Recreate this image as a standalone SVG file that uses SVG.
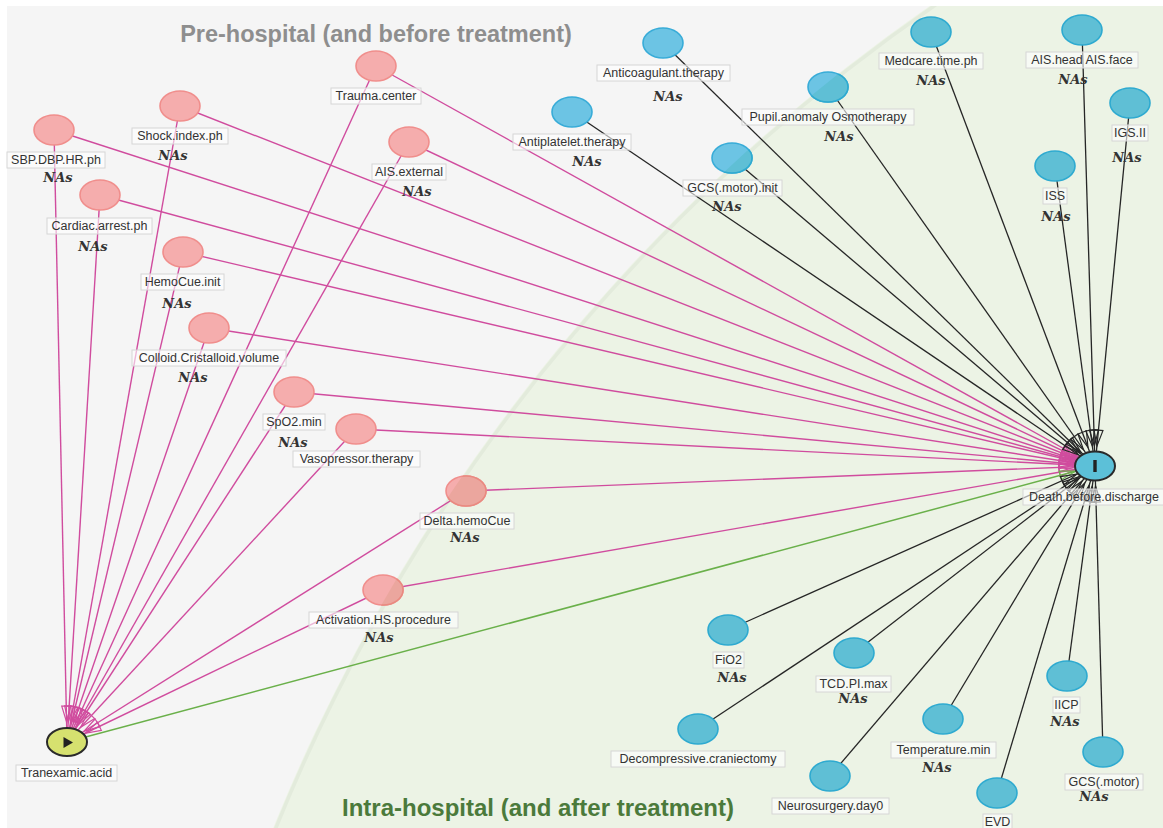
<svg xmlns="http://www.w3.org/2000/svg" width="1163" height="828" viewBox="0 0 1163 828">
<style>
.lbl{font-family:"Liberation Sans",Arial,sans-serif;font-size:12.5px;fill:#333;text-anchor:middle}
.nas{font-family:"DejaVu Serif",serif;font-weight:bold;font-style:italic;font-size:13px;fill:#333;text-anchor:middle}
.box{fill:#ffffff;fill-opacity:0.6;stroke:#d6d6d6;stroke-width:1}
.pk{fill:#f5adad;stroke:#f08e8c;stroke-width:1.6}
.pkg{fill:#eba69e;stroke:#e98a80;stroke-width:1.6}
.bl{fill:#6cc4e4;stroke:#38acd8;stroke-width:1.6}
.blg{fill:#5fbfd5;stroke:#2eaad0;stroke-width:1.6}
.ep{stroke:#d04c9e;stroke-width:1.4;fill:none;marker-end:url(#mp)}
.eb{stroke:#262626;stroke-width:1.3;fill:none;marker-end:url(#mb)}
.eg{stroke:#6ab04a;stroke-width:1.5;fill:none;marker-end:url(#mg)}
.title{font-family:"Liberation Sans",Arial,sans-serif;font-weight:bold;text-anchor:middle}
</style>
<defs>
<marker id="mp" markerUnits="userSpaceOnUse" orient="auto" overflow="visible" markerWidth="1" markerHeight="1" refX="0" refY="0"><path d="M-36,-4.5 L-20,0 L-36,4.5 Z" fill="none" stroke="#d04c9e" stroke-width="1.2"/></marker>
<marker id="mb" markerUnits="userSpaceOnUse" orient="auto" overflow="visible" markerWidth="1" markerHeight="1" refX="0" refY="0"><path d="M-36,-4.5 L-20,0 L-36,4.5 Z" fill="none" stroke="#262626" stroke-width="1.2"/></marker>
<marker id="mg" markerUnits="userSpaceOnUse" orient="auto" overflow="visible" markerWidth="1" markerHeight="1" refX="0" refY="0"><path d="M-36,-4.5 L-20,0 L-36,4.5 Z" fill="none" stroke="#6ab04a" stroke-width="1.2"/></marker>
<clipPath id="bgclip"><rect x="7" y="6" width="1156" height="822"/></clipPath>
<clipPath id="gclip"><circle cx="1980" cy="1518" r="1841"/></clipPath>
</defs>
<rect x="0" y="0" width="1163" height="828" fill="#ffffff"/>
<rect x="7" y="6" width="1156" height="822" fill="#f5f5f5"/>
<g clip-path="url(#bgclip)">
<circle cx="1980" cy="1518" r="1841" fill="#ecf3e5"/>
<circle cx="1980" cy="1518" r="1838.5" fill="none" stroke="#e3ebdc" stroke-width="3.5"/>
</g>

<g id="connectors">
<line class="ep" x1="376" y1="66" x2="67" y2="742"/>
<line class="ep" x1="376" y1="66" x2="1095" y2="466"/>
<line class="ep" x1="180" y1="106" x2="67" y2="742"/>
<line class="ep" x1="180" y1="106" x2="1095" y2="466"/>
<line class="ep" x1="54" y1="130" x2="67" y2="742"/>
<line class="ep" x1="54" y1="130" x2="1095" y2="466"/>
<line class="ep" x1="409" y1="142" x2="67" y2="742"/>
<line class="ep" x1="409" y1="142" x2="1095" y2="466"/>
<line class="ep" x1="100" y1="195" x2="67" y2="742"/>
<line class="ep" x1="100" y1="195" x2="1095" y2="466"/>
<line class="ep" x1="183" y1="252" x2="67" y2="742"/>
<line class="ep" x1="183" y1="252" x2="1095" y2="466"/>
<line class="ep" x1="209" y1="328" x2="67" y2="742"/>
<line class="ep" x1="209" y1="328" x2="1095" y2="466"/>
<line class="ep" x1="294" y1="392" x2="67" y2="742"/>
<line class="ep" x1="294" y1="392" x2="1095" y2="466"/>
<line class="ep" x1="356" y1="429" x2="67" y2="742"/>
<line class="ep" x1="356" y1="429" x2="1095" y2="466"/>
<line class="ep" x1="466" y1="491" x2="67" y2="742"/>
<line class="ep" x1="466" y1="491" x2="1095" y2="466"/>
<line class="ep" x1="383" y1="590" x2="67" y2="742"/>
<line class="ep" x1="383" y1="590" x2="1095" y2="466"/>
<line class="eg" x1="67" y1="742" x2="1095" y2="466"/>
<line class="eb" x1="663" y1="43" x2="1095" y2="466"/>
<line class="eb" x1="572" y1="112" x2="1095" y2="466"/>
<line class="eb" x1="828" y1="87" x2="1095" y2="466"/>
<line class="eb" x1="732" y1="158" x2="1095" y2="466"/>
<line class="eb" x1="931" y1="32" x2="1095" y2="466"/>
<line class="eb" x1="1082" y1="30" x2="1095" y2="466"/>
<line class="eb" x1="1130" y1="103" x2="1095" y2="466"/>
<line class="eb" x1="1055" y1="166" x2="1095" y2="466"/>
<line class="eb" x1="728" y1="630" x2="1095" y2="466"/>
<line class="eb" x1="854" y1="653" x2="1095" y2="466"/>
<line class="eb" x1="698" y1="729" x2="1095" y2="466"/>
<line class="eb" x1="943" y1="719" x2="1095" y2="466"/>
<line class="eb" x1="1067" y1="676" x2="1095" y2="466"/>
<line class="eb" x1="830" y1="776" x2="1095" y2="466"/>
<line class="eb" x1="1103" y1="752" x2="1095" y2="466"/>
<line class="eb" x1="997" y1="793" x2="1095" y2="466"/>
</g>

<g id="n-trauma"><ellipse class="pk" cx="376" cy="66" rx="20" ry="15"/><rect class="box" x="331" y="88" width="90" height="16"/><text class="lbl" x="376" y="100">Trauma.center</text></g>
<g id="n-shock"><ellipse class="pk" cx="180" cy="106" rx="20" ry="15"/><rect class="box" x="132" y="128" width="96" height="16"/><text class="lbl" x="180" y="140">Shock.index.ph</text><text class="nas" x="173" y="160">NAs</text></g>
<g id="n-sbp"><ellipse class="pk" cx="54" cy="130" rx="20" ry="15"/><rect class="box" x="7" y="152" width="98" height="16"/><text class="lbl" x="56" y="164">SBP.DBP.HR.ph</text><text class="nas" x="58" y="182">NAs</text></g>
<g id="n-aisext"><ellipse class="pk" cx="409" cy="142" rx="20" ry="15"/><rect class="box" x="372" y="164" width="74" height="16"/><text class="lbl" x="409" y="176">AIS.external</text><text class="nas" x="417" y="196">NAs</text></g>
<g id="n-cardiac"><ellipse class="pk" cx="100" cy="195" rx="20" ry="15"/><rect class="box" x="47" y="218" width="105" height="16"/><text class="lbl" x="99.5" y="230">Cardiac.arrest.ph</text><text class="nas" x="93" y="251">NAs</text></g>
<g id="n-hemocue"><ellipse class="pk" cx="183" cy="252" rx="20" ry="15"/><rect class="box" x="141" y="274" width="83" height="16"/><text class="lbl" x="182.5" y="286">HemoCue.init</text><text class="nas" x="177" y="308">NAs</text></g>
<g id="n-colloid"><ellipse class="pk" cx="209" cy="328" rx="20" ry="15"/><rect class="box" x="132" y="350" width="154" height="16"/><text class="lbl" x="209" y="362">Colloid.Cristalloid.volume</text><text class="nas" x="193" y="382">NAs</text></g>
<g id="n-spo2"><ellipse class="pk" cx="294" cy="392" rx="20" ry="15"/><rect class="box" x="263" y="414" width="62" height="16"/><text class="lbl" x="294" y="426">SpO2.min</text><text class="nas" x="293" y="447">NAs</text></g>
<g id="n-vaso"><ellipse class="pk" cx="356" cy="429" rx="20" ry="15"/><rect class="box" x="293" y="451" width="127" height="16"/><text class="lbl" x="356.5" y="463">Vasopressor.therapy</text></g>
<g id="n-delta"><ellipse class="pk" cx="466" cy="491" rx="20" ry="15"/><ellipse class="pkg" cx="466" cy="491" rx="20" ry="15" clip-path="url(#gclip)"/><rect class="box" x="420" y="513" width="94" height="16"/><text class="lbl" x="467" y="525">Delta.hemoCue</text><text class="nas" x="465" y="542">NAs</text></g>
<g id="n-activ"><ellipse class="pk" cx="383" cy="590" rx="20" ry="15"/><ellipse class="pkg" cx="383" cy="590" rx="20" ry="15" clip-path="url(#gclip)"/><rect class="box" x="309" y="612" width="149" height="16"/><text class="lbl" x="383.5" y="624">Activation.HS.procedure</text><text class="nas" x="379" y="642">NAs</text></g>

<g id="n-anticoag"><ellipse class="bl" cx="663" cy="43" rx="20" ry="15"/><rect class="box" x="597" y="65" width="133" height="16"/><text class="lbl" x="663.5" y="77">Anticoagulant.therapy</text><text class="nas" x="668" y="101">NAs</text></g>
<g id="n-antiplat"><ellipse class="bl" cx="572" cy="112" rx="20" ry="15"/><rect class="box" x="513" y="134" width="118" height="16"/><text class="lbl" x="572" y="146">Antiplatelet.therapy</text><text class="nas" x="587" y="166">NAs</text></g>
<g id="n-pupil"><ellipse class="bl" cx="828" cy="87" rx="20" ry="15"/><ellipse class="blg" cx="828" cy="87" rx="20" ry="15" clip-path="url(#gclip)"/><rect class="box" x="742" y="109" width="172" height="16"/><text class="lbl" x="828" y="121">Pupil.anomaly Osmotherapy</text><text class="nas" x="839" y="141">NAs</text></g>
<g id="n-gcsinit"><ellipse class="bl" cx="732" cy="158" rx="20" ry="15"/><ellipse class="blg" cx="732" cy="158" rx="20" ry="15" clip-path="url(#gclip)"/><rect class="box" x="683" y="180" width="99" height="16"/><text class="lbl" x="732.5" y="192">GCS(.motor).init</text><text class="nas" x="727" y="211">NAs</text></g>
<g id="n-medcare"><ellipse class="blg" cx="931" cy="32" rx="20" ry="15"/><rect class="box" x="879" y="53" width="104" height="16"/><text class="lbl" x="931" y="65">Medcare.time.ph</text><text class="nas" x="931" y="85">NAs</text></g>
<g id="n-aishead"><ellipse class="blg" cx="1082" cy="30" rx="20" ry="15"/><rect class="box" x="1026" y="52" width="112" height="16"/><text class="lbl" x="1082" y="64">AIS.head AIS.face</text><text class="nas" x="1073" y="84">NAs</text></g>
<g id="n-igs"><ellipse class="blg" cx="1130" cy="103" rx="20" ry="15"/><rect class="box" x="1112" y="125" width="36" height="16"/><text class="lbl" x="1130" y="137">IGS.II</text><text class="nas" x="1127" y="162">NAs</text></g>
<g id="n-iss"><ellipse class="blg" cx="1055" cy="166" rx="20" ry="15"/><rect class="box" x="1043" y="188" width="24" height="16"/><text class="lbl" x="1055" y="200">ISS</text><text class="nas" x="1056" y="221">NAs</text></g>
<g id="n-fio2"><ellipse class="blg" cx="728" cy="630" rx="20" ry="15"/><rect class="box" x="713" y="652" width="31" height="16"/><text class="lbl" x="728.5" y="664">FiO2</text><text class="nas" x="732" y="682">NAs</text></g>
<g id="n-tcd"><ellipse class="blg" cx="854" cy="653" rx="20" ry="15"/><rect class="box" x="816" y="676" width="75" height="16"/><text class="lbl" x="853.5" y="688">TCD.PI.max</text><text class="nas" x="853" y="703">NAs</text></g>
<g id="n-decomp"><ellipse class="blg" cx="698" cy="729" rx="20" ry="15"/><rect class="box" x="611" y="751" width="174" height="16"/><text class="lbl" x="698" y="763">Decompressive.craniectomy</text></g>
<g id="n-temp"><ellipse class="blg" cx="943" cy="719" rx="20" ry="15"/><rect class="box" x="891" y="742" width="105" height="16"/><text class="lbl" x="943.5" y="754">Temperature.min</text><text class="nas" x="937" y="772">NAs</text></g>
<g id="n-iicp"><ellipse class="blg" cx="1067" cy="676" rx="20" ry="15"/><rect class="box" x="1053" y="697" width="27" height="16"/><text class="lbl" x="1066.5" y="709">IICP</text><text class="nas" x="1065" y="726">NAs</text></g>
<g id="n-neuro"><ellipse class="blg" cx="830" cy="776" rx="20" ry="15"/><rect class="box" x="772" y="798" width="117" height="16"/><text class="lbl" x="830.5" y="810">Neurosurgery.day0</text></g>
<g id="n-gcsm"><ellipse class="blg" cx="1103" cy="752" rx="20" ry="15"/><rect class="box" x="1065" y="774" width="78" height="16"/><text class="lbl" x="1104" y="786">GCS(.motor)</text><text class="nas" x="1094" y="801">NAs</text></g>
<g id="n-evd"><ellipse class="blg" cx="997" cy="793" rx="20" ry="15"/><rect class="box" x="983" y="814" width="29" height="16"/><text class="lbl" x="997.5" y="826">EVD</text></g>

<g id="n-death"><ellipse cx="1095" cy="466" rx="20" ry="14.5" fill="#5cc0d8" stroke="#2a2a2a" stroke-width="2"/><rect x="1093.3" y="460" width="3.4" height="12" fill="#222"/><rect class="box" x="1023" y="489" width="142" height="16"/><text class="lbl" x="1094" y="501">Death.before.discharge</text></g>
<g id="n-txa"><ellipse cx="67" cy="742" rx="20" ry="14" fill="#d6e16f" stroke="#2a2a2a" stroke-width="2"/><polygon points="63.5,737 63.5,748 73,742.5" fill="#222"/><rect class="box" x="16" y="765" width="101" height="16"/><text class="lbl" x="66.5" y="777">Tranexamic.acid</text></g>

<text class="title" x="376" y="42" font-size="23.5" fill="#8e8e8e">Pre-hospital (and before treatment)</text>
<text class="title" x="538" y="816" font-size="24" fill="#4b7a3b">Intra-hospital (and after treatment)</text>
</svg>
